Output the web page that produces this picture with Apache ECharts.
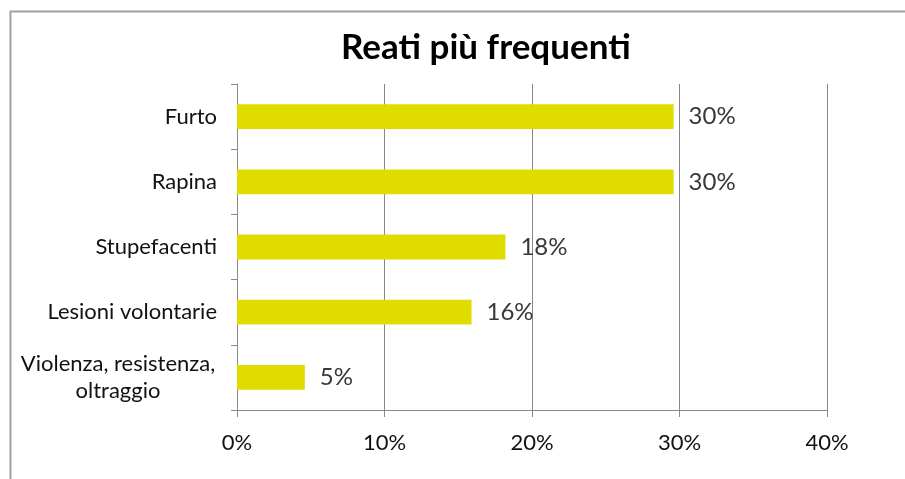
<!DOCTYPE html>
<html>
<head>
<meta charset="utf-8">
<script src="https://cdn.jsdelivr.net/npm/echarts@6/dist/echarts.min.js"></script>
<style>
  html, body { margin: 0; padding: 0; background: #fff; }
  #chart { width: 905px; height: 479px; }
</style>
</head>
<body>
<div id="chart"></div>
<script>
var categories = ['Furto', 'Rapina', 'Stupefacenti', 'Lesioni volontarie', 'Violenza, resistenza,\noltraggio'];
var values = [29.6, 29.6, 18.2, 15.9, 4.6];
var xTicks = [0, 10, 20, 30, 40];

var chartDom = document.getElementById('chart');
var chart = echarts.init(chartDom);
var font = 'Lato, "Liberation Sans", sans-serif';

var option = {
  animation: false,
  backgroundColor: '#fff',
  title: {
    text: 'Reati più frequenti',
    left: 336,
    top: 25,
    textStyle: { fontFamily: font, fontSize: 35, fontWeight: 'bold', color: '#000' }
  },
  graphic: [
    { type: 'polyline', shape: { points: [[10.5, 479], [10.5, 11.5], [905, 11.5]] },
      style: { stroke: '#a0a0a0', lineWidth: 2, fill: null } }
  ],
  grid: { left: 237, right: 78, top: 84, bottom: 69, containLabel: false },
  xAxis: {
    type: 'value',
    min: xTicks[0],
    max: xTicks[xTicks.length - 1],
    interval: 10,
    axisLine: { show: true, lineStyle: { color: '#888', width: 1 } },
    axisTick: { show: true, length: 7, lineStyle: { color: '#888' } },
    splitLine: { show: true, lineStyle: { color: '#888', width: 1 } },
    axisLabel: {
      formatter: function (v) { return v + '%'; },
      margin: 22,
      fontFamily: font, fontSize: 22, color: '#111'
    }
  },
  yAxis: {
    type: 'category',
    inverse: true,
    data: categories,
    axisLine: { show: true, lineStyle: { color: '#888', width: 1 } },
    axisTick: { show: true, length: 6, lineStyle: { color: '#888' } },
    axisLabel: {
      margin: 20,
      fontFamily: font, fontSize: 22, color: '#111', lineHeight: 27,
      formatter: function (v) {
        if (v.indexOf('\n') >= 0) {
          return v.split('\n').map(function (s) { return '{c|' + s + '}'; }).join('\n');
        }
        return v;
      },
      rich: {
        c: { width: 198, align: 'center', fontFamily: font, fontSize: 22, color: '#111', lineHeight: 27 }
      }
    }
  },
  series: [
    {
      type: 'bar',
      data: values,
      barWidth: '38%',
      itemStyle: { color: '#e0dc00' },
      label: {
        show: true,
        position: 'right',
        distance: 15,
        formatter: function (p) { return Math.round(p.value) + '%'; },
        fontFamily: font, fontSize: 24, color: '#383838'
      }
    }
  ]
};

option && chart.setOption(option);
</script>
</body>
</html>
